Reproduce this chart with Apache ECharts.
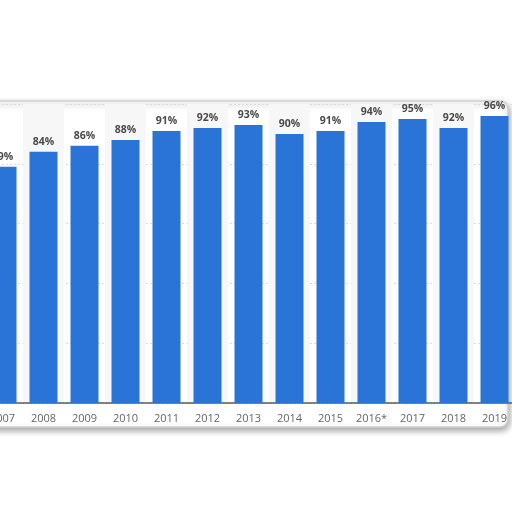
<!DOCTYPE html>
<html><head><meta charset="utf-8">
<script src="https://cdn.jsdelivr.net/npm/echarts@6/dist/echarts.min.js"></script>
<style>html,body{margin:0;padding:0;background:#fff;overflow:hidden;width:512px;height:512px;position:relative}#c{width:533px;height:512px;position:absolute;left:-18px;top:0}</style>
</head><body><div id="c"></div>
<script>
const categories = ['2007','2008','2009','2010','2011','2012','2013','2014','2015','2016*','2017','2018','2019'];
const values = [79,84,86,88,91,92,93,90,91,94,95,92,96];
const yTicks = [0,20,40,60,80,100];

const chart = echarts.init(document.getElementById('c'), null, {renderer:'canvas'});
chart.setOption({
  animation:false,
  backgroundColor:'#ffffff',
  graphic:[{
    type:'rect', z:-100, silent:true,
    shape:{x:-2,y:101,width:528,height:326,r:8},
    style:{fill:'#ffffff',stroke:'#cfcfcf',lineWidth:1.5,
      shadowBlur:6,shadowOffsetY:3,shadowOffsetX:1,shadowColor:'rgba(0,0,0,0.35)'}
  }],
  grid:{left:0,right:0,top:104,bottom:109,containLabel:false},
  xAxis:{
    type:'category', data:categories,
    axisLine:{show:true,lineStyle:{color:'#5a5a5a',width:1.5}},
    axisTick:{show:false},
    axisLabel:{interval:0,color:'#666',fontSize:11,margin:10,fontFamily:'Open Sans'},
    splitArea:{show:true,interval:0,areaStyle:{color:['rgba(255,255,255,0)','#f7f7f7']}}
  },
  yAxis:{
    type:'value', min:yTicks[0], max:yTicks[yTicks.length-1], interval:20,
    axisLine:{show:false}, axisTick:{show:false}, axisLabel:{show:false},
    splitLine:{show:true,lineStyle:{color:'#dcdcdc',type:[2,2],width:1}}
  },
  series:[{
    type:'bar', data:values, barWidth:28,
    itemStyle:{color:'#2a74d8'},
    label:{show:true,position:'top',distance:4,formatter:'{c}%',
      color:'#4a4a4a',fontWeight:'bold',fontSize:10.5,fontFamily:'Open Sans'}
  }]
});
</script></body></html>
